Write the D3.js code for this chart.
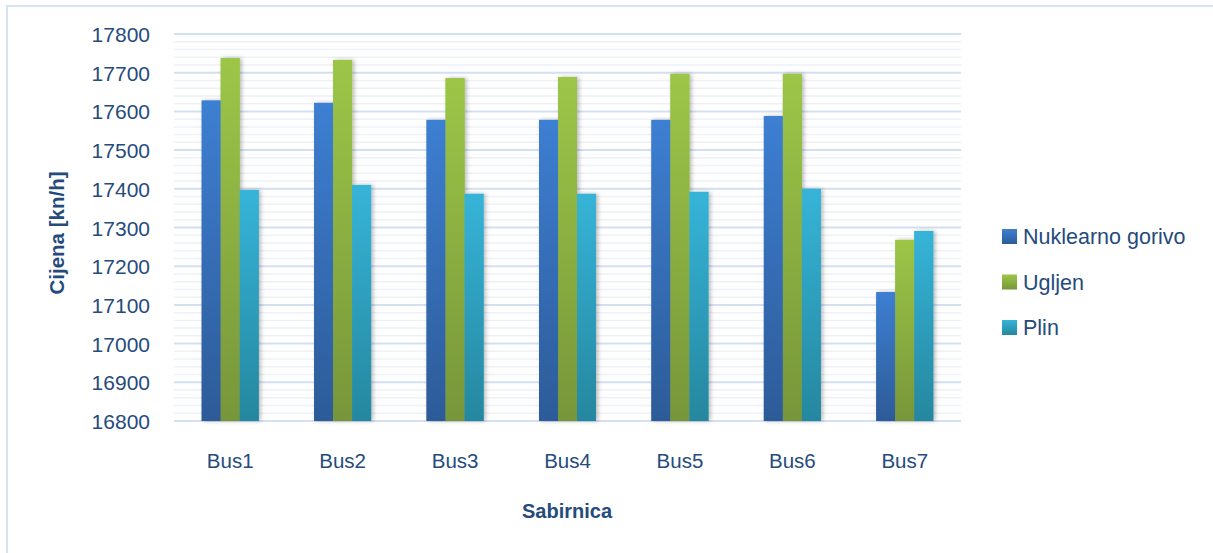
<!DOCTYPE html>
<html>
<head>
<meta charset="utf-8">
<script src="https://cdn.jsdelivr.net/npm/d3@7"></script>
<style>
  html, body { margin: 0; padding: 0; background: #fff; }
  svg { display: block; }
  text { font-family: "Liberation Sans", Arial, sans-serif; fill: #254b7d; }
</style>
</head>
<body>
<svg id="chart" width="1213" height="553"></svg>
<script>
const categories = ["Bus1", "Bus2", "Bus3", "Bus4", "Bus5", "Bus6", "Bus7"];
const seriesNames = ["Nuklearno gorivo", "Ugljen", "Plin"];
const nuklearno = [17628, 17622, 17578, 17578, 17578, 17588, 17133];
const ugljen    = [17738, 17733, 17686, 17689, 17697, 17697, 17268];
const plin      = [17397, 17410, 17387, 17387, 17392, 17400, 17291];
const yTicks = [16800, 16900, 17000, 17100, 17200, 17300, 17400, 17500, 17600, 17700, 17800];
const yMinorStep = 20;

const seriesValues = [nuklearno, ugljen, plin];
const colors = [
  { top: "#3d7fd2", bottom: "#2d5b98" },
  { top: "#9dc648", bottom: "#77963a" },
  { top: "#36b4d8", bottom: "#25879f" }
];

const svg = d3.select("#chart");
const plot = { left: 174, right: 961, top: 34, bottom: 421 };

// outer chart border (right/bottom outside the visible area)
svg.append("rect")
  .attr("x", 7).attr("y", 6).attr("width", 1400).attr("height", 800)
  .attr("fill", "none").attr("stroke", "#d6e2f2").attr("stroke-width", 2);

const defs = svg.append("defs");
colors.forEach((c, i) => {
  const g = defs.append("linearGradient").attr("id", "grad" + i)
    .attr("x1", 0).attr("y1", 0).attr("x2", 0).attr("y2", 1);
  g.append("stop").attr("offset", "0%").attr("stop-color", c.top);
  g.append("stop").attr("offset", "100%").attr("stop-color", c.bottom);
});
const f = defs.append("filter").attr("id", "shadow")
  .attr("x", "-30%").attr("y", "-5%").attr("width", "170%").attr("height", "110%");
f.append("feDropShadow").attr("dx", 2).attr("dy", 0).attr("stdDeviation", 2.2)
  .attr("flood-color", "#000").attr("flood-opacity", 0.28);

const x = d3.scaleBand().domain(categories).range([plot.left, plot.right]).paddingInner(0).paddingOuter(0);
const bandPad = 0.493;
const x1 = d3.scaleBand().domain(seriesNames)
  .range([x.bandwidth() * bandPad / 2, x.bandwidth() * (1 - bandPad / 2)]).padding(0);
const y = d3.scaleLinear().domain([16800, 17800]).range([plot.bottom, plot.top]);

// minor grid
const minor = d3.range(16800, 17800 + 1, yMinorStep).filter(v => yTicks.indexOf(v) < 0);
svg.append("g").selectAll("line").data(minor).join("line")
  .attr("x1", plot.left).attr("x2", plot.right)
  .attr("y1", d => y(d)).attr("y2", d => y(d))
  .attr("stroke", "#edf2f9").attr("stroke-width", 1.5);

// major grid
svg.append("g").selectAll("line").data(yTicks).join("line")
  .attr("x1", plot.left).attr("x2", plot.right)
  .attr("y1", d => y(d)).attr("y2", d => y(d))
  .attr("stroke", "#d3e0f1").attr("stroke-width", 2);

// bars
const groups = svg.append("g").selectAll("g").data(categories).join("g")
  .attr("transform", d => `translate(${x(d)},0)`);
seriesNames.forEach((s, si) => {
  groups.append("rect")
    .attr("x", x1(s))
    .attr("width", x1.bandwidth())
    .attr("y", (d, i) => y(seriesValues[si][i]))
    .attr("height", (d, i) => plot.bottom - y(seriesValues[si][i]))
    .attr("fill", `url(#grad${si})`)
    .attr("filter", "url(#shadow)");
});
seriesNames.forEach((s, si) => {
  groups.append("rect")
    .attr("x", x1(s))
    .attr("width", x1.bandwidth())
    .attr("y", (d, i) => y(seriesValues[si][i]))
    .attr("height", (d, i) => plot.bottom - y(seriesValues[si][i]))
    .attr("fill", `url(#grad${si})`);
});

// y axis labels
const yAxis = d3.axisLeft(y).tickValues(yTicks).tickSize(0).tickPadding(0).tickFormat(d3.format("d"));
const yg = svg.append("g").attr("transform", `translate(150,0)`).call(yAxis);
yg.select(".domain").remove();
yg.selectAll("text").attr("font-size", 21).style("fill", "#254b7d")
  .attr("font-family", "Liberation Sans, Arial, sans-serif").attr("dy", "0.36em");

// x axis labels
const xAxis = d3.axisBottom(x).tickSize(0).tickPadding(0);
const xg = svg.append("g").attr("transform", `translate(0,453)`).call(xAxis);
xg.select(".domain").remove();
xg.selectAll("text").attr("font-size", 20.5).style("fill", "#254b7d")
  .attr("font-family", "Liberation Sans, Arial, sans-serif").attr("dy", "0.72em");

// axis titles
svg.append("text").attr("x", 567).attr("y", 518).attr("text-anchor", "middle")
  .attr("font-size", 20).attr("font-weight", "bold").text("Sabirnica");
svg.append("text").attr("transform", "translate(64,233) rotate(-90)").attr("text-anchor", "middle")
  .attr("font-size", 20.5).attr("font-weight", "bold").text("Cijena [kn/h]");

// legend
const legend = svg.append("g").selectAll("g").data(seriesNames).join("g")
  .attr("transform", (d, i) => `translate(1002,${229 + i * 45.5})`);
legend.append("rect").attr("width", 15).attr("height", 15)
  .attr("fill", (d, i) => `url(#grad${i})`);
legend.append("text").attr("x", 21).attr("y", 7.5).attr("dy", "0.36em")
  .attr("font-size", 21.5).text(d => d);
</script>
</body>
</html>
